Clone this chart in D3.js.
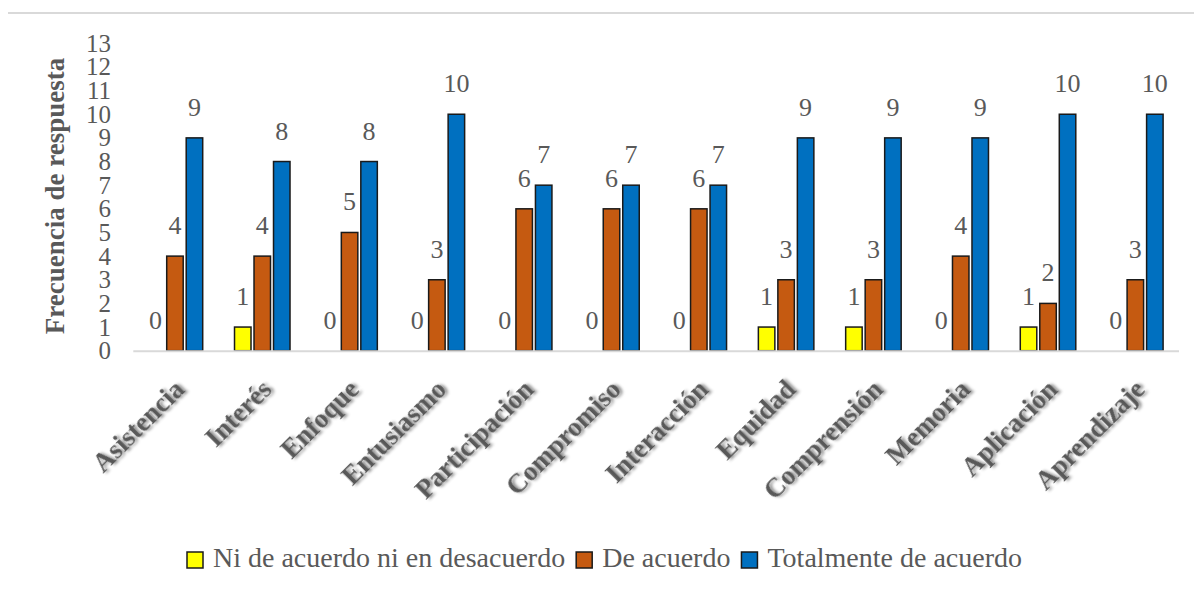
<!DOCTYPE html>
<html>
<head>
<meta charset="utf-8">
<script src="https://cdn.jsdelivr.net/npm/d3@7"></script>
<style>
  body { margin: 0; background: #fff; }
  svg { display: block; }
</style>
</head>
<body>
<div id="chart"></div>
<script>
// data
var categories = ['Asistencia', 'Interés', 'Enfoque', 'Entusiasmo', 'Participación', 'Compromiso',
                  'Interacción', 'Equidad', 'Comprensión', 'Memoria', 'Aplicación', 'Aprendizaje'];
var seriesNames = ['Ni de acuerdo ni en desacuerdo', 'De acuerdo', 'Totalmente de acuerdo'];
var neutral = [0, 1, 0, 0, 0, 0, 0, 1, 1, 0, 1, 0];
var agree = [4, 4, 5, 3, 6, 6, 6, 3, 3, 4, 2, 3];
var totally = [9, 8, 8, 10, 7, 7, 7, 9, 9, 9, 10, 10];
var yTicks = [0, 1, 2, 3, 4, 5, 6, 7, 8, 9, 10, 11, 12, 13];

var colors = ['#ffff00', '#c55a11', '#0070c0'];
var textGray = '#595959';
var serif = '"Liberation Serif", "Times New Roman", serif';

var W = 1194, H = 594;
var svg = d3.select('#chart').append('svg')
    .attr('width', W)
    .attr('height', H)
    .style('font-family', serif);

// soft shadow used by the category labels
var defs = svg.append('defs');
var f = defs.append('filter').attr('id', 'shadow')
    .attr('x', '-20%').attr('y', '-20%').attr('width', '140%').attr('height', '140%');
f.append('feDropShadow')
    .attr('dx', 2).attr('dy', 2).attr('stdDeviation', 1.5)
    .attr('flood-color', '#000').attr('flood-opacity', 0.45);

// thin line of the page above the chart
svg.append('line')
    .attr('x1', 8).attr('x2', W)
    .attr('y1', 13).attr('y2', 13)
    .attr('stroke', '#d9d9d9')
    .attr('stroke-width', 2);

var table = categories.map(function(c, i) {
    return { cat: c, vals: [neutral[i], agree[i], totally[i]] };
});

var x0 = d3.scaleBand()
    .domain(categories)
    .range([131.3, 1179]);

var x1 = d3.scaleBand()
    .domain(d3.range(seriesNames.length))
    .range([0, 55.5])
    .paddingInner(0.154);

var groupOffset = (x0.bandwidth() - 55.5) / 2;

var y = d3.scaleLinear()
    .domain([0, 13])
    .range([350.7, 43.3]);

// y axis: only labels
var yAxis = svg.append('g')
    .attr('transform', 'translate(111,0)')
    .call(d3.axisLeft(y).tickValues(yTicks).tickSize(0).tickPadding(0));
yAxis.attr('font-family', null).attr('font-size', null);
yAxis.select('.domain').remove();
yAxis.selectAll('text')
    .attr('fill', textGray)
    .style('font-size', '25px')
    .style('font-family', serif);

svg.append('text')
    .attr('transform', 'translate(64,196) rotate(-90)')
    .attr('text-anchor', 'middle')
    .attr('fill', textGray)
    .style('font-family', serif)
    .style('font-size', '27px')
    .style('font-weight', 'bold')
    .text('Frecuencia de respuesta');

// bars
var groups = svg.selectAll('.grp')
    .data(table)
    .enter()
    .append('g')
    .attr('class', 'grp')
    .attr('transform', function(d) { return 'translate(' + (x0(d.cat) + groupOffset) + ',0)'; });

groups.selectAll('rect')
    .data(function(d) { return d.vals.map(function(v, k) { return { k: k, v: v }; }); })
    .enter()
    .filter(function(d) { return d.v > 0; })
    .append('rect')
    .attr('x', function(d) { return x1(d.k); })
    .attr('y', function(d) { return y(d.v); })
    .attr('width', x1.bandwidth())
    .attr('height', function(d) { return y(0) - y(d.v); })
    .attr('fill', function(d) { return colors[d.k]; })
    .attr('stroke', '#1a1a1a')
    .attr('stroke-width', 1.5);

groups.selectAll('text.lbl')
    .data(function(d) { return d.vals.map(function(v, k) { return { k: k, v: v }; }); })
    .enter()
    .append('text')
    .attr('class', 'lbl')
    .attr('x', function(d) { return x1(d.k) + x1.bandwidth() / 2; })
    .attr('y', function(d) { return y(d.v) - 22; })
    .attr('text-anchor', 'middle')
    .attr('fill', textGray)
    .style('font-family', serif)
    .style('font-size', '26px')
    .text(function(d) { return d.v; });

// category axis line
svg.append('line')
    .attr('x1', x0.range()[0] + 2).attr('x2', x0.range()[1])
    .attr('y1', y(0) + 0.5).attr('y2', y(0) + 0.5)
    .attr('stroke', '#d9d9d9')
    .attr('stroke-width', 2);

svg.selectAll('.cat')
    .data(categories)
    .enter()
    .append('text')
    .attr('class', 'cat')
    .attr('transform', function(d) {
        return 'translate(' + (x0(d) + x0.bandwidth() / 2 + 11) + ',391) rotate(-45)';
    })
    .attr('text-anchor', 'end')
    .attr('fill', textGray)
    .attr('filter', 'url(#shadow)')
    .style('font-family', serif)
    .style('font-size', '27px')
    .style('font-weight', 'bold')
    .text(function(d) { return d; });

// legend
var legend = svg.append('g').attr('transform', 'translate(187,567)');
var lx = 0;
seriesNames.forEach(function(name, k) {
    legend.append('rect')
        .attr('x', lx).attr('y', -15)
        .attr('width', 16).attr('height', 16)
        .attr('fill', colors[k])
        .attr('stroke', '#1a1a1a')
        .attr('stroke-width', 1.5);
    var t = legend.append('text')
        .attr('x', lx + 26).attr('y', 0)
        .attr('fill', textGray)
        .style('font-family', serif)
        .style('font-size', '28px')
        .text(name);
    lx += 26 + t.node().getComputedTextLength() + 11;
});
</script>
</body>
</html>
